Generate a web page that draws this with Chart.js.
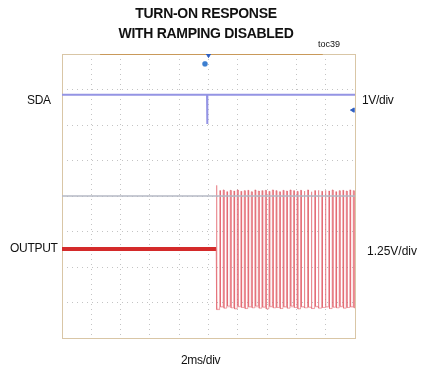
<!DOCTYPE html>
<html>
<head>
<meta charset="utf-8">
<script src="https://cdn.jsdelivr.net/npm/chart.js@4/dist/chart.umd.min.js"></script>
<style>
  html, body { margin: 0; padding: 0; background: #fff; }
  #wrap { position: relative; width: 428px; height: 368px; overflow: hidden; font-family: "Liberation Sans", Arial, sans-serif; color: #111; }
  #scope { position: absolute; left: 0; top: 0; }
  .lbl { position: absolute; white-space: nowrap; font-size: 12px; line-height: 14px; letter-spacing: -0.3px; }
  .ttl { position: absolute; left: 0; width: 412px; text-align: center; font-weight: bold; font-size: 14px; line-height: 18px; letter-spacing: -0.3px; }
</style>
</head>
<body>
<div id="wrap">
  <canvas id="scope" width="428" height="368"></canvas>
  <div class="ttl" style="top:4px">TURN-ON RESPONSE</div>
  <div class="ttl" style="top:24px">WITH RAMPING DISABLED</div>
  <div class="lbl" style="left:318px;top:39px;font-size:9px;line-height:11px;letter-spacing:0">toc39</div>
  <div class="lbl" style="left:27px;top:93px">SDA</div>
  <div class="lbl" style="left:362px;top:93px">1V/div</div>
  <div class="lbl" style="left:10px;top:241px">OUTPUT</div>
  <div class="lbl" style="left:367px;top:244px;letter-spacing:0">1.25V/div</div>
  <div class="lbl" style="left:181px;top:353px">2ms/div</div>
</div>
<script>
(function () {
  // time in divisions (2ms/div), amplitude in divisions
  var sdaLevel = 2.85;
  var sdaGlitchTime = 4.95;
  var sdaGlitchLow = 2.03;

  var outputOffLevel = -1.49;
  var outputStart = 5.26;
  var outputLow = -3.15;
  var pulseWidth = 0.03;
  var pulseRises = [5.26, 5.38, 5.50, 5.62, 5.74, 5.86, 5.98, 6.10, 6.22, 6.34,
    6.46, 6.58, 6.70, 6.82, 6.94, 7.06, 7.18, 7.30, 7.42, 7.54,
    7.66, 7.78, 7.90, 8.02, 8.14, 8.26, 8.38, 8.50, 8.62, 8.74,
    8.86, 8.98, 9.10, 9.22, 9.34, 9.46, 9.58, 9.70, 9.82, 9.94];
  var pulseHighs = [0.30, 0.15, 0.17, 0.12, 0.16, 0.14, 0.17, 0.13, 0.15, 0.16,
    0.12, 0.17, 0.14, 0.15, 0.16, 0.13, 0.17, 0.15, 0.12, 0.16,
    0.14, 0.17, 0.15, 0.13, 0.16, 0.14, 0.17, 0.12, 0.15, 0.16,
    0.13, 0.16, 0.14, 0.17, 0.12, 0.15, 0.16, 0.14, 0.17, 0.15];
  var pulseLows = [-3.20, -3.12, -3.16, -3.10, -3.15, -3.18, -3.11, -3.14, -3.17, -3.12,
    -3.15, -3.10, -3.16, -3.13, -3.18, -3.11, -3.15, -3.14, -3.17, -3.12,
    -3.16, -3.10, -3.14, -3.18, -3.12, -3.15, -3.13, -3.17, -3.11, -3.16,
    -3.14, -3.12, -3.17, -3.13, -3.15, -3.11, -3.16, -3.14, -3.12, -3.15];

  var triggerLevel = 2.42;
  var triggerTime = 4.88;

  var sdaPts = [
    { x: 0, y: sdaLevel },
    { x: sdaGlitchTime, y: sdaLevel },
    { x: sdaGlitchTime, y: sdaGlitchLow },
    { x: sdaGlitchTime + 0.02, y: sdaLevel },
    { x: 10, y: sdaLevel }
  ];

  var offPts = [{ x: 0, y: outputOffLevel }, { x: outputStart, y: outputOffLevel }];

  var pulsePts = [{ x: outputStart, y: outputOffLevel }];
  pulseRises.forEach(function (t, i) {
    if (i > 0) pulsePts.push({ x: t, y: pulseLows[i - 1] });
    pulsePts.push({ x: t, y: pulseHighs[i] });
    pulsePts.push({ x: t + pulseWidth, y: pulseHighs[i] });
    pulsePts.push({ x: t + pulseWidth, y: pulseLows[i] });
  });
  pulsePts.push({ x: 10, y: pulseLows[pulseLows.length - 1] });

  var framePlugin = {
    id: 'frame',
    beforeDatasetsDraw: function (chart) {
      var a = chart.chartArea, ctx = chart.ctx;
      ctx.save();
      ctx.strokeStyle = '#d9c6a6';
      ctx.lineWidth = 1;
      ctx.strokeRect(a.left + 0.5, a.top + 0.5, a.right - a.left, a.bottom - a.top);
      ctx.strokeStyle = '#c9995a';
      ctx.beginPath();
      ctx.moveTo(a.left + (a.right - a.left) * 0.13, a.top + 0.5);
      ctx.lineTo(a.left + (a.right - a.left) * 0.89, a.top + 0.5);
      ctx.stroke();
      ctx.restore();
    }
  };

  var gridStyle = {
    color: '#c4c4c4',
    lineWidth: 1,
    drawTicks: false
  };

  new Chart(document.getElementById('scope'), {
    type: 'line',
    data: {
      datasets: [
        {
          data: [{ x: 0, y: 0 }, { x: 10, y: 0 }],
          borderColor: '#b4b8c4',
          borderWidth: 1.5,
          pointRadius: 0
        },
        {
          data: pulsePts,
          borderColor: 'rgba(226, 90, 100, 0.5)',
          backgroundColor: 'rgba(240, 150, 160, 0.25)',
          fill: { value: -3.15 },
          borderWidth: 1,
          pointRadius: 0
        },
        {
          data: offPts,
          borderColor: '#d42a2a',
          borderWidth: 4,
          pointRadius: 0
        },
        {
          data: sdaPts,
          borderColor: '#9494e4',
          borderWidth: 2,
          pointRadius: 0
        },
        {
          data: [{ x: triggerTime, y: 3.72 }],
          showLine: false,
          pointStyle: 'rectRounded',
          pointRadius: 2.5,
          backgroundColor: '#3d7fd0',
          borderColor: '#3d7fd0'
        },
        {
          data: [{ x: 5, y: 3.97 }, { x: 9.93, y: triggerLevel }],
          showLine: false,
          pointStyle: 'triangle',
          pointRotation: [180, 270],
          pointRadius: 2.5,
          backgroundColor: '#2f5fc0',
          borderColor: '#2f5fc0'
        }
      ]
    },
    options: {
      responsive: false,
      animation: false,
      events: [],
      layout: { padding: { left: 62, top: 54, right: 73, bottom: 30 } },
      plugins: { legend: { display: false }, tooltip: { enabled: false } },
      elements: { line: { tension: 0 } },
      scales: {
        x: {
          type: 'linear', min: 0, max: 10,
          ticks: { display: false, stepSize: 1 },
          grid: gridStyle,
          border: { display: false, dash: [1, 4] }
        },
        y: {
          type: 'linear', min: -4, max: 4,
          ticks: { display: false, stepSize: 1 },
          grid: gridStyle,
          border: { display: false, dash: [1, 4] }
        }
      }
    },
    plugins: [framePlugin]
  });
})();
</script>
</body>
</html>
